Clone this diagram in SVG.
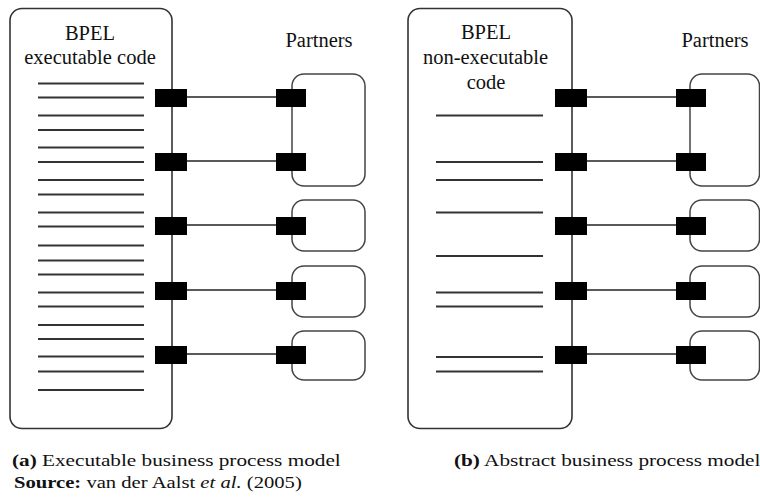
<svg xmlns="http://www.w3.org/2000/svg" width="760" height="498" viewBox="0 0 760 498">
<style>
.box{fill:none;stroke:#333;stroke-width:1.6}
.pbox{fill:none;stroke:#444;stroke-width:1.5}
.code{stroke:#333;stroke-width:1.8}
.port{fill:#000}
.conn{stroke:#222;stroke-width:1.5;fill:none}
.lbl{font-family:"Liberation Serif","Times New Roman",serif;font-size:20.5px;fill:#111;text-anchor:middle}
.cap{font-family:"Liberation Serif","Times New Roman",serif;font-size:16px;fill:#111}
.b{font-weight:bold}
.i{font-style:italic}
</style>
<rect width="760" height="498" fill="#fff"/>

<!-- Panel (a) -->
<g id="bpel-exec">
  <rect class="box" x="10" y="8.5" width="162" height="420" rx="12"/>
  <text class="lbl" x="90" y="39.5">BPEL</text>
  <text class="lbl" x="90" y="63.5">executable code</text>
  <g class="code">
    <line x1="38" y1="83.5" x2="144" y2="83.5"/>
    <line x1="38" y1="97.5" x2="144" y2="97.5"/>
    <line x1="38" y1="115.5" x2="144" y2="115.5"/>
    <line x1="38" y1="130" x2="144" y2="130"/>
    <line x1="38" y1="147.5" x2="144" y2="147.5"/>
    <line x1="38" y1="162" x2="144" y2="162"/>
    <line x1="38" y1="180" x2="144" y2="180"/>
    <line x1="38" y1="194.5" x2="144" y2="194.5"/>
    <line x1="38" y1="212.5" x2="144" y2="212.5"/>
    <line x1="38" y1="226.5" x2="144" y2="226.5"/>
    <line x1="38" y1="245.5" x2="144" y2="245.5"/>
    <line x1="38" y1="260.5" x2="144" y2="260.5"/>
    <line x1="38" y1="274.5" x2="144" y2="274.5"/>
    <line x1="38" y1="292.5" x2="144" y2="292.5"/>
    <line x1="38" y1="306.5" x2="144" y2="306.5"/>
    <line x1="38" y1="325" x2="144" y2="325"/>
    <line x1="38" y1="339" x2="144" y2="339"/>
    <line x1="38" y1="356.5" x2="144" y2="356.5"/>
    <line x1="38" y1="371.5" x2="144" y2="371.5"/>
    <line x1="38" y1="390" x2="144" y2="390"/>
  </g>
</g>
<text class="lbl" x="319" y="46.5">Partners</text>
<g id="partner-a1"><rect class="pbox" x="292" y="74" width="73" height="112" rx="12"/></g>
<g id="partner-a2"><rect class="pbox" x="292" y="200" width="73" height="51" rx="12"/></g>
<g id="partner-a3"><rect class="pbox" x="292" y="266" width="73" height="51" rx="12"/></g>
<g id="partner-a4"><rect class="pbox" x="292" y="331" width="73" height="49" rx="12"/></g>

<!-- Panel (b) -->
<g id="bpel-abstract">
  <rect class="box" x="408" y="8.5" width="164" height="420" rx="12"/>
  <text class="lbl" x="486" y="38.5">BPEL</text>
  <text class="lbl" x="485.5" y="63.5">non-executable</text>
  <text class="lbl" x="486" y="88.5">code</text>
  <g class="code">
    <line x1="436" y1="115.5" x2="543" y2="115.5"/>
    <line x1="436" y1="162" x2="543" y2="162"/>
    <line x1="436" y1="180" x2="543" y2="180"/>
    <line x1="436" y1="212.5" x2="543" y2="212.5"/>
    <line x1="436" y1="256" x2="543" y2="256"/>
    <line x1="436" y1="292.5" x2="543" y2="292.5"/>
    <line x1="436" y1="306.5" x2="543" y2="306.5"/>
    <line x1="436" y1="357" x2="543" y2="357"/>
    <line x1="436" y1="371.5" x2="543" y2="371.5"/>
  </g>
</g>
<text class="lbl" x="715" y="46.5">Partners</text>
<g id="partner-b1"><rect class="pbox" x="690" y="74" width="69.5" height="112" rx="12"/></g>
<g id="partner-b2"><rect class="pbox" x="690" y="200" width="69.5" height="51" rx="12"/></g>
<g id="partner-b3"><rect class="pbox" x="690" y="266" width="69.5" height="51" rx="12"/></g>
<g id="partner-b4"><rect class="pbox" x="690" y="331" width="69.5" height="49" rx="12"/></g>

<!-- Connectors -->
<g id="connectors" class="conn">
  <line x1="187" y1="97" x2="276" y2="97"/>
  <line x1="187" y1="161" x2="276" y2="161"/>
  <line x1="187" y1="225" x2="276" y2="225"/>
  <line x1="187" y1="290" x2="276" y2="290"/>
  <line x1="187" y1="354" x2="276" y2="354"/>
  <line x1="587" y1="97" x2="676" y2="97"/>
  <line x1="587" y1="161" x2="676" y2="161"/>
  <line x1="587" y1="225" x2="676" y2="225"/>
  <line x1="587" y1="290" x2="676" y2="290"/>
  <line x1="587" y1="354" x2="676" y2="354"/>
</g>

<!-- Ports -->
<g id="ports" class="port">
  <rect x="155" y="89" width="32" height="18"/>
  <rect x="155" y="153" width="32" height="18"/>
  <rect x="155" y="217" width="32" height="18"/>
  <rect x="155" y="282" width="32" height="18"/>
  <rect x="155" y="346" width="32" height="18"/>
  <rect x="276" y="89" width="30" height="18"/>
  <rect x="276" y="153" width="30" height="18"/>
  <rect x="276" y="217" width="30" height="18"/>
  <rect x="276" y="282" width="30" height="18"/>
  <rect x="276" y="346" width="30" height="18"/>
  <rect x="555" y="89" width="32" height="18"/>
  <rect x="555" y="153" width="32" height="18"/>
  <rect x="555" y="217" width="32" height="18"/>
  <rect x="555" y="282" width="32" height="18"/>
  <rect x="555" y="346" width="32" height="18"/>
  <rect x="676" y="89" width="30" height="18"/>
  <rect x="676" y="153" width="30" height="18"/>
  <rect x="676" y="217" width="30" height="18"/>
  <rect x="676" y="282" width="30" height="18"/>
  <rect x="676" y="346" width="30" height="18"/>
</g>

<!-- Captions -->
<text class="cap" transform="translate(12 465.5) scale(1.327 1)"><tspan class="b">(a)</tspan> Executable business process model</text>
<text class="cap" transform="translate(454 465.5) scale(1.327 1)"><tspan class="b">(b)</tspan> Abstract business process model</text>
<text class="cap" transform="translate(14 488) scale(1.29 1)"><tspan class="b">Source:</tspan> van der Aalst <tspan class="i">et al.</tspan> (2005)</text>
</svg>
